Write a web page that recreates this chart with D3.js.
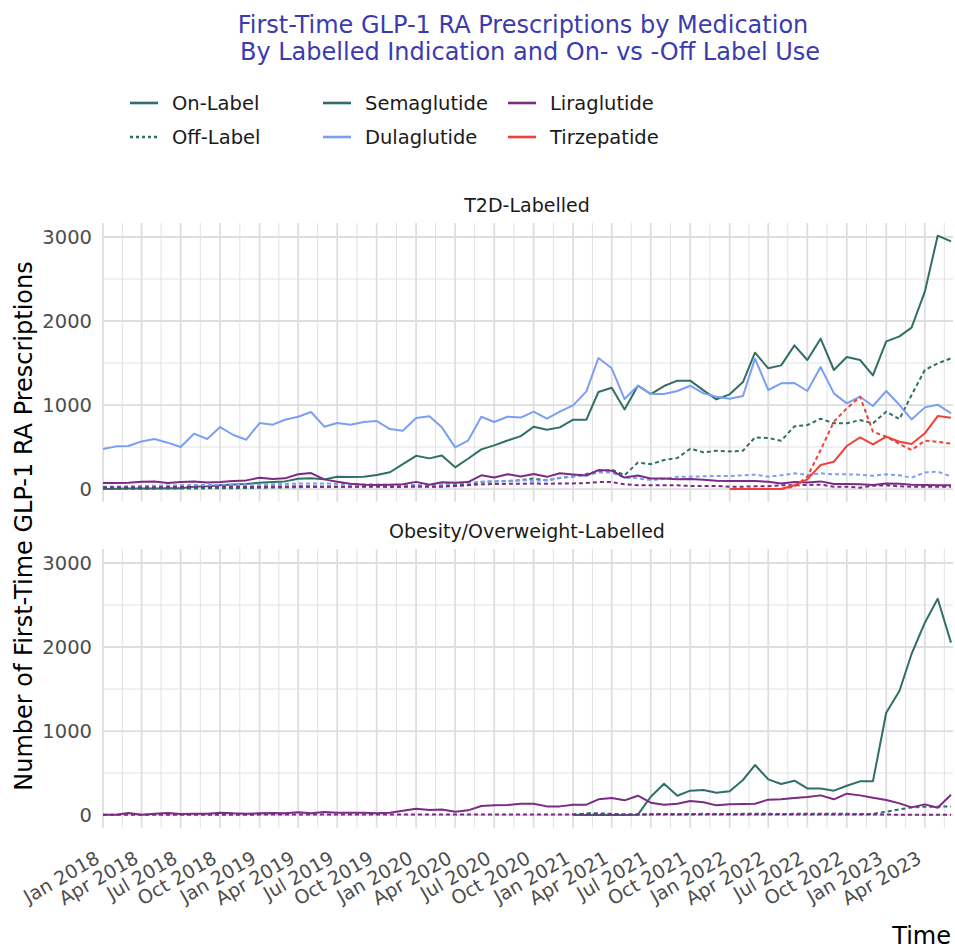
<!DOCTYPE html>
<html><head><meta charset="utf-8">
<script src="https://cdn.jsdelivr.net/npm/d3@7"></script>
<style>
body{margin:0;background:#fff}
svg{display:block;font-family:"DejaVu Sans",sans-serif}
</style>
</head><body>
<svg id="chart" width="955" height="951"></svg>
<script>
// ---------- DATA ----------
const firstMonth = new Date(2018, 0, 1);
const lastMonth = new Date(2023, 5, 1);
const medications = ["Semaglutide", "Dulaglutide", "Liraglutide", "Tirzepatide"];
const medColors = ["#2f6f67", "#7c9ef3", "#7b2a85", "#ef4136"];
const panelTitles = ["T2D-Labelled", "Obesity/Overweight-Labelled"];
const labelTypes = ["On-Label", "Off-Label"];
const yTicks = [0, 1000, 2000, 3000];
const yMinor = [500, 1500, 2500];
const N = null;

// T2D-labelled panel (monthly, Jan 2018 - Jun 2023)
const t2dSemaOn = [0,2,5,5,5,8,8,28,32,45, 55,60,75,83,91,123,127,115,147,143,
  147,167,200,296,395,365,400,258,360,472, 520,577,630,742,706,734,825,825,1155,1206,
  948,1230,1131,1226,1290,1290,1175,1067,1127,1274, 1623,1437,1472,1710,1536,1790,1417,1571,1536,1353,
  1758,1817,1921,2349,3016,2948];
const t2dSemaOff = [3,3,4,4,5,5,6,6,8,8, 10,12,15,18,20,22,25,25,28,30,
  32,35,28,28,30,30,35,48,50,85, 90,95,107,125,103,130,150,180,212,230,
  165,315,296,345,369,480,437,456,448,456, 615,607,575,746,762,837,782,782,821,782,
  921,833,1119,1417,1496,1556];
const t2dDulaOn = [476,508,512,567,595,552,500,659,595,738, 643,587,786,766,825,861,917,742,786,766,
  798,810,714,694,845,865,734,496,575,861, 798,861,851,921,837,921,996,1163,1560,1437,
  1071,1230,1131,1131,1167,1230,1139,1099,1075,1107, 1552,1179,1258,1262,1167,1452,1139,1020,1099,988,
  1167,1000,829,972,1004,901];
const t2dDulaOff = [28,30,32,35,40,42,45,48,48,50, 50,52,55,58,60,65,67,67,60,60,
  58,55,50,48,48,50,55,67,75,87, 90,95,105,95,105,135,150,163,198,195,
  135,127,107,120,147,147,151,155,155,163, 171,147,163,187,167,187,175,175,171,159,
  175,163,135,198,206,151];
const t2dLiraOn = [71,71,75,87,91,71,83,91,79,83, 95,103,135,119,127,175,190,115,87,62,
  52,48,52,56,85,50,80,75,83,163, 137,177,150,179,145,187,173,161,226,218,
  137,161,125,125,115,119,111,99,95,95, 95,87,67,83,79,91,60,60,56,48,
  67,63,52,48,44,44];
const t2dLiraOff = [20,20,20,22,22,24,24,25,25,26, 27,28,28,30,30,32,32,30,28,28,
  28,28,28,28,30,28,28,35,45,56, 60,62,63,65,63,67,67,71,83,83,
  56,44,44,44,44,36,36,36,28,28, 32,32,44,44,48,52,28,28,16,40,
  44,32,28,28,28,28];
const t2dTirzOn = [N,N,N,N,N,N,N,N,N,N, N,N,N,N,N,N,N,N,N,N,
  N,N,N,N,N,N,N,N,N,N, N,N,N,N,N,N,N,N,N,N,
  N,N,N,N,N,N,N,N,0,0, 0,0,0,44,115,286,325,512,615,532,
  623,563,536,663,869,849];
const t2dTirzOff = [N,N,N,N,N,N,N,N,N,N, N,N,N,N,N,N,N,N,N,N,
  N,N,N,N,N,N,N,N,N,N, N,N,N,N,N,N,N,N,N,N,
  N,N,N,N,N,N,N,N,N,N, N,N,0,28,147,464,802,960,1099,683,
  623,536,464,575,563,540];

// Obesity/Overweight-labelled panel
const obSemaOn = [N,N,N,N,N,N,N,N,N,N, N,N,N,N,N,N,N,N,N,N,
  N,N,N,N,N,N,N,N,N,N, N,N,N,N,N,N,0,0,0,0,
  0,4,218,373,230,290,298,266,282,417, 595,425,369,409,317,317,290,349,401,401,
  1218,1480,1917,2290,2575,2052];
const obSemaOff = [N,N,N,N,N,N,N,N,N,N, N,N,N,N,N,N,N,N,N,N,
  N,N,N,N,N,N,N,N,N,N, N,N,N,N,N,N,0,20,20,15,
  5,5,10,12,10,12,14,12,12,14, 16,14,12,14,16,14,16,14,12,14,
  40,67,91,99,99,103];
const obLiraOn = [4,4,24,4,16,24,12,16,16,28, 20,16,20,24,20,32,20,36,28,28,
  28,20,28,52,75,60,67,40,56,107, 115,119,135,135,103,103,123,123,187,202,
  175,230,147,123,135,167,151,115,127,131, 135,183,187,202,214,234,187,254,234,206,
  179,139,91,127,87,242];
const obLiraOff = [3,3,4,3,3,4,4,3,3,4, 4,4,5,5,5,5,5,5,5,5,
  5,5,5,5,6,6,6,6,6,6, 6,6,6,6,6,6,8,8,8,6,
  6,6,6,6,6,6,6,6,6,6, 6,6,6,6,6,6,6,6,6,6,
  6,4,4,2,2,2];

// ---------- BUILD ----------
const months = d3.timeMonth.range(firstMonth, d3.timeMonth.offset(lastMonth, 1));
const series = [
  {panel:0, med:0, type:0, values:t2dSemaOn}, {panel:0, med:0, type:1, values:t2dSemaOff},
  {panel:0, med:1, type:0, values:t2dDulaOn}, {panel:0, med:1, type:1, values:t2dDulaOff},
  {panel:0, med:2, type:0, values:t2dLiraOn}, {panel:0, med:2, type:1, values:t2dLiraOff},
  {panel:0, med:3, type:0, values:t2dTirzOn}, {panel:0, med:3, type:1, values:t2dTirzOff},
  {panel:1, med:0, type:0, values:obSemaOn}, {panel:1, med:0, type:1, values:obSemaOff},
  {panel:1, med:2, type:0, values:obLiraOn}, {panel:1, med:2, type:1, values:obLiraOff}
];

const svg = d3.select("#chart");
const panelLeft = 102, panelRight = 953;
const panelTops = [223, 549];
const panelH = 278.7;

const x = d3.scaleTime().domain([months[0], months[months.length - 1]]).range([103, 951]);
const allVals = series.flatMap(s => s.values.filter(v => v != null));
const yMaxData = d3.max(allVals), yMinData = d3.min(allVals);
const pad = (yMaxData - yMinData) * 0.05;
const yDomain = [yMinData - pad, yMaxData + pad];

// Title
const title = svg.append("g").attr("fill", "#3b3bb0").attr("font-size", 24).attr("text-anchor", "middle");
title.append("text").attr("x", 523).attr("y", 33).text("First-Time GLP-1 RA Prescriptions by Medication");
title.append("text").attr("x", 530).attr("y", 60)
  .text("By Labelled Indication and On- vs -Off Label Use");

// Legend
const legend = svg.append("g").attr("font-size", 19.5).attr("fill", "#1a1a1a");
const legItems = [
  {x:130, y:103, label:labelTypes[0], color:medColors[0], dash:null},
  {x:130, y:137, label:labelTypes[1], color:medColors[0], dash:"3,3"},
  {x:323, y:103, label:medications[0], color:medColors[0], dash:null},
  {x:323, y:137, label:medications[1], color:medColors[1], dash:null},
  {x:508, y:103, label:medications[2], color:medColors[2], dash:null},
  {x:508, y:137, label:medications[3], color:medColors[3], dash:null}
];
legItems.forEach(it => {
  legend.append("line").attr("x1", it.x).attr("x2", it.x + 28).attr("y1", it.y).attr("y2", it.y)
    .attr("stroke", it.color).attr("stroke-width", 2.6)
    .attr("stroke-dasharray", it.dash);
  legend.append("text").attr("x", it.x + 42).attr("y", it.y).attr("dy", "0.35em").text(it.label);
});

// Major/minor x breaks
const majors = d3.timeMonth.every(3).range(months[0], d3.timeMonth.offset(lastMonth, 1));
const ext = [d3.timeMonth.offset(majors[0], -3), ...majors, d3.timeMonth.offset(majors[majors.length-1], 3)];
const minors = [];
for (let i = 0; i < ext.length - 1; i++) {
  const mid = new Date((ext[i].getTime() + ext[i+1].getTime()) / 2);
  const px = x(mid);
  if (px >= panelLeft && px <= panelRight) minors.push(mid);
}
const fmt = d3.timeFormat("%b %Y");

panelTitles.forEach((pt, p) => {
  const top = panelTops[p];
  const y = d3.scaleLinear().domain(yDomain).range([top + panelH, top]);
  const g = svg.append("g");
  // strip
  svg.append("text").attr("x", 527).attr("y", top - 11).attr("text-anchor", "middle")
    .attr("font-size", 19).attr("fill", "#1a1a1a").text(pt);
  // grid minor
  g.selectAll(".vmin").data(minors).join("line")
    .attr("x1", d => x(d)).attr("x2", d => x(d)).attr("y1", top).attr("y2", top + panelH)
    .attr("stroke", "#e2e2e2").attr("stroke-width", 1);
  g.selectAll(".hmin").data(yMinor).join("line")
    .attr("x1", panelLeft).attr("x2", panelRight).attr("y1", d => y(d)).attr("y2", d => y(d))
    .attr("stroke", "#e2e2e2").attr("stroke-width", 1);
  g.selectAll(".vmaj").data(majors).join("line")
    .attr("x1", d => x(d)).attr("x2", d => x(d)).attr("y1", top).attr("y2", top + panelH)
    .attr("stroke", "#dedede").attr("stroke-width", 1.8);
  g.selectAll(".hmaj").data(yTicks).join("line")
    .attr("x1", panelLeft).attr("x2", panelRight).attr("y1", d => y(d)).attr("y2", d => y(d))
    .attr("stroke", "#dedede").attr("stroke-width", 1.8);
  // y axis labels
  svg.append("g").selectAll("text").data(yTicks).join("text")
    .attr("x", 92).attr("y", d => y(d)).attr("dy", "0.36em").attr("text-anchor", "end")
    .attr("font-size", 19.5).attr("fill", "#4d4d4d").text(d => d);
  // lines
  const line = d3.line().defined(d => d.v != null).x(d => x(d.t)).y(d => y(d.v));
  series.filter(s => s.panel === p).forEach(s => {
    const pts = months.map((t, i) => ({t, v: s.values[i]}));
    g.append("path").datum(pts).attr("d", line).attr("fill", "none")
      .attr("stroke", medColors[s.med]).attr("stroke-width", 2)
      .attr("stroke-linejoin", "round")
      .attr("stroke-dasharray", s.type === 1 ? "4,3" : null);
  });
});

// x axis labels (bottom panel only)
const xl = svg.append("g").attr("font-size", 19).attr("fill", "#4d4d4d");
majors.forEach(d => {
  xl.append("text").attr("text-anchor", "end")
    .attr("transform", `translate(${x(d) - 2},${862}) rotate(-30)`)
    .text(fmt(d));
});

// axis titles
svg.append("text").attr("x", 951).attr("y", 944).attr("text-anchor", "end")
  .attr("font-size", 24).attr("fill", "#000").text("Time");
svg.append("text").attr("transform", "translate(31.5,526) rotate(-90)").attr("text-anchor", "middle")
  .attr("font-size", 24).attr("fill", "#000").text("Number of First-Time GLP-1 RA Prescriptions");
</script>
</body></html>
